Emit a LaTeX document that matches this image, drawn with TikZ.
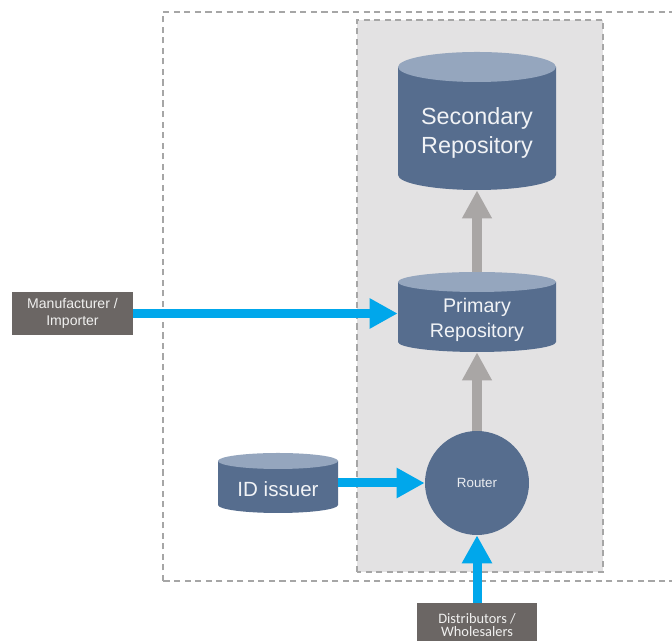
\documentclass[tikz,border=0pt]{standalone}
\usepackage{fontspec}
\setmainfont{Liberation Sans}
\newfontfamily\calib{Carlito}
\usepackage{tikz}
\usetikzlibrary{arrows.meta}
\usetikzlibrary{positioning}

\definecolor{slate}{HTML}{566D8E}
\definecolor{slatetop}{HTML}{95A6BE}
\definecolor{paneback}{HTML}{E3E2E3}
\definecolor{boxgrey}{HTML}{6B6664}
\definecolor{flowblue}{HTML}{00A7EB}
\definecolor{flowgrey}{HTML}{A9A6A5}
\definecolor{dashgrey}{HTML}{A6A6A6}

% #1 name, #2 x, #3 y, #4 width, #5 height, #6 cap radius, #7 text, #8 font
\newcommand{\drum}[8]{%
 \fill[slate] ({#2-#4/2},{#3+#5/2-#6}) -- ({#2-#4/2},{#3-#5/2+#6})
   arc[start angle=180,end angle=360,x radius=#4/2,y radius=#6]
   -- ({#2+#4/2},{#3+#5/2-#6}) -- cycle;
 \fill[slatetop] (#2,{#3+#5/2-#6}) ellipse[x radius=#4/2,y radius=#6];
 \node[inner sep=0,minimum width=#4*0.02cm,minimum height=#5*0.02cm] (#1) at (#2,#3) {};
 \node[drumtext,font=#8] at (#2,{#3-0.8*#6}) {#7};
}

\begin{document}
\begin{tikzpicture}[x=0.02cm,y=0.02cm]
\tikzstyle{drumtext}=[text=white!92!slate,align=center,inner sep=0];
\tikzstyle{tagbox}=[fill=boxgrey,text=white!90!boxgrey,align=center,inner sep=0];
\tikzstyle{blueflow}=[draw=flowblue,line width=0.18cm,-{Triangle[length=0.56cm,width=0.57cm]}];
\tikzstyle{greyflow}=[draw=flowgrey,line width=0.2cm,-{Triangle[length=0.56cm,width=0.56cm]}];
\tikzstyle{frame}=[draw=dashgrey,line width=0.6pt,dash pattern=on 3.5pt off 2.5pt];

\clip (0,0) rectangle (672,641);

\draw[frame] (163,60) rectangle (720,629); % outer boundary
\draw[frame,fill=paneback] (357,69) rectangle (603,621); % repository pane

\drum{second}{477}{520}{158}{138}{15}{Secondary\\Repository}{\fontsize{13.3}{17}\selectfont}
\drum{primary}{477}{329}{158}{80}{10}{Primary\\Repository}{\fontsize{11.2}{14.2}\selectfont}
\drum{issuer}{278}{158}{120}{60}{8}{ID issuer}{\fontsize{11.7}{14}\selectfont}

\node[circle,fill=slate,minimum size=104*0.02cm,inner sep=0,text=white!88!slate,
  font=\fontsize{7.6}{9}\selectfont] (router) at (477,158) {Router};

\node[tagbox,minimum width=2.42cm,minimum height=0.86cm,font=\fontsize{8}{9.7}\selectfont]
  (maker) at (72.5,327.5) {Manufacturer /\\Importer};
\node[tagbox,minimum width=2.4cm,minimum height=0.88cm,font=\calib\fontsize{8.2}{7.8}\selectfont]
  (dealer) at (477,16) {Distributors /\\Wholesalers};

\draw[greyflow] (primary.north) -- (second.south);
\draw[greyflow] (router.north) -- (primary.south);

\draw[blueflow] (maker.east) -- (maker.east -| primary.west);
\draw[blueflow] (issuer.east) -- (router.west);
\draw[blueflow] (dealer.north) -- (router.south);

\end{tikzpicture}
\end{document}
